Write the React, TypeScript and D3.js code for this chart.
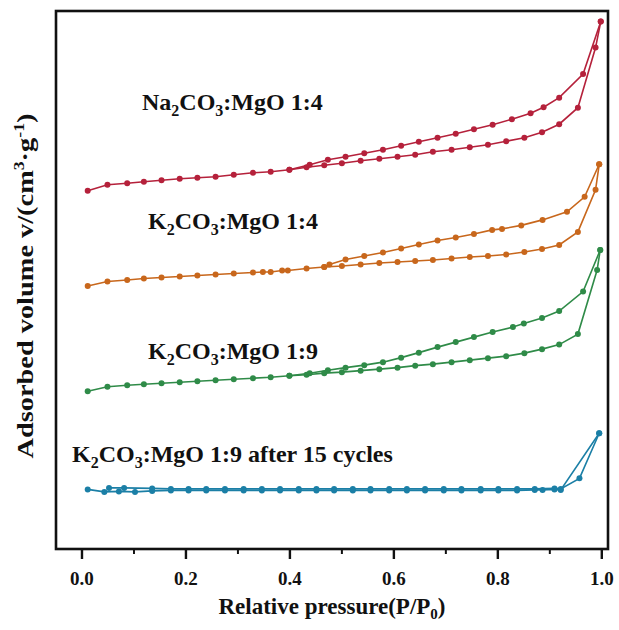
import React from "react";
import * as d3 from "d3";

// relative pressure (P/P0) and adsorbed volume (arbitrary offset units)
const naAdsP = [0.011, 0.049, 0.087, 0.119, 0.153, 0.188, 0.222, 0.257, 0.292, 0.329, 0.363, 0.399, 0.432, 0.466, 0.5, 0.536, 0.572, 0.607, 0.641, 0.675, 0.711, 0.746, 0.781, 0.816, 0.851, 0.885, 0.918, 0.954, 0.988, 0.998];
const naAdsV = [74.1, 75.3, 75.6, 75.9, 76.2, 76.5, 76.7, 76.9, 77.3, 77.7, 77.9, 78.3, 78.8, 79.2, 79.6, 80.1, 80.5, 80.9, 81.3, 81.9, 82.3, 82.8, 83.3, 84.0, 84.7, 85.8, 87.4, 90.7, 102.7, 107.9];
const naDesP = [0.998, 0.964, 0.918, 0.888, 0.863, 0.827, 0.79, 0.754, 0.719, 0.684, 0.648, 0.614, 0.579, 0.543, 0.507, 0.473, 0.438, 0.399];
const naDesV = [107.9, 97.4, 92.7, 90.8, 89.6, 88.4, 87.3, 86.4, 85.5, 84.7, 83.9, 83.1, 82.3, 81.6, 80.9, 80.3, 79.3, 78.3];

const k14AdsP = [0.011, 0.049, 0.087, 0.119, 0.153, 0.188, 0.222, 0.257, 0.292, 0.329, 0.348, 0.363, 0.385, 0.396, 0.432, 0.466, 0.5, 0.536, 0.572, 0.607, 0.641, 0.675, 0.711, 0.746, 0.781, 0.816, 0.851, 0.885, 0.918, 0.954, 0.988, 0.995];
const k14AdsV = [55.1, 56.0, 56.3, 56.6, 56.8, 57.0, 57.2, 57.4, 57.6, 57.8, 57.9, 57.9, 58.2, 58.2, 58.6, 58.9, 59.1, 59.4, 59.7, 59.9, 60.1, 60.3, 60.6, 60.9, 61.1, 61.4, 61.9, 62.5, 63.3, 65.9, 74.3, 79.4];
const k14DesP = [0.995, 0.967, 0.933, 0.886, 0.845, 0.808, 0.789, 0.754, 0.719, 0.684, 0.648, 0.614, 0.579, 0.543, 0.507, 0.476, 0.466];
const k14DesV = [79.4, 72.9, 69.9, 68.3, 67.2, 66.5, 66.3, 65.5, 64.8, 64.2, 63.4, 62.6, 61.8, 61.1, 60.4, 59.4, 58.9];

const k19AdsP = [0.011, 0.049, 0.087, 0.119, 0.153, 0.188, 0.222, 0.257, 0.292, 0.329, 0.363, 0.399, 0.432, 0.466, 0.5, 0.536, 0.572, 0.607, 0.641, 0.675, 0.711, 0.746, 0.781, 0.816, 0.851, 0.885, 0.918, 0.954, 0.991, 0.997];
const k19AdsV = [34.1, 35.0, 35.3, 35.5, 35.7, 35.9, 36.1, 36.3, 36.5, 36.7, 36.9, 37.2, 37.4, 37.7, 37.9, 38.2, 38.5, 38.8, 39.2, 39.5, 39.9, 40.3, 40.7, 41.1, 41.7, 42.5, 43.4, 45.5, 58.3, 62.3];
const k19DesP = [0.997, 0.964, 0.918, 0.885, 0.85, 0.829, 0.79, 0.754, 0.719, 0.684, 0.648, 0.614, 0.579, 0.543, 0.507, 0.473, 0.438, 0.399];
const k19DesV = [62.3, 54.0, 50.1, 48.7, 47.6, 46.9, 45.9, 44.9, 43.9, 42.9, 41.8, 40.8, 39.9, 39.3, 38.8, 38.3, 37.7, 37.2];

const cycAdsP = [0.011, 0.043, 0.071, 0.102, 0.135, 0.171, 0.205, 0.239, 0.275, 0.311, 0.346, 0.381, 0.417, 0.451, 0.485, 0.521, 0.555, 0.591, 0.625, 0.66, 0.696, 0.73, 0.767, 0.801, 0.837, 0.871, 0.886, 0.909, 0.921, 0.995];
const cycAdsV = [14.5, 14.0, 14.1, 14.0, 14.2, 14.3, 14.3, 14.3, 14.3, 14.3, 14.3, 14.3, 14.3, 14.3, 14.3, 14.3, 14.3, 14.3, 14.3, 14.3, 14.3, 14.3, 14.3, 14.3, 14.3, 14.4, 14.4, 14.5, 14.4, 25.7];
const cycDesP = [0.995, 0.957, 0.921, 0.909, 0.871, 0.837, 0.801, 0.767, 0.73, 0.696, 0.66, 0.625, 0.591, 0.555, 0.521, 0.485, 0.451, 0.417, 0.381, 0.346, 0.311, 0.275, 0.239, 0.205, 0.171, 0.135, 0.081, 0.052];
const cycDesV = [25.7, 16.7, 14.6, 14.7, 14.6, 14.6, 14.6, 14.6, 14.6, 14.6, 14.6, 14.6, 14.6, 14.6, 14.6, 14.6, 14.6, 14.6, 14.6, 14.6, 14.6, 14.6, 14.6, 14.6, 14.6, 14.7, 14.8, 14.8];

const seriesColors = ["#b5213b", "#c8671c", "#2f8b48", "#1b7fa6"];

const width = 619;
const height = 630;
const margin = { top: 11, right: 11, bottom: 81, left: 56 };

const font = "'Liberation Serif', 'Times New Roman', serif";

const toPts = (p: number[], v: number[]) => p.map((x, i) => [x, v[i]] as [number, number]);

const series = [
  { color: seriesColors[0], ads: toPts(naAdsP, naAdsV), des: toPts(naDesP, naDesV) },
  { color: seriesColors[1], ads: toPts(k14AdsP, k14AdsV), des: toPts(k14DesP, k14DesV) },
  { color: seriesColors[2], ads: toPts(k19AdsP, k19AdsV), des: toPts(k19DesP, k19DesV) },
  { color: seriesColors[3], ads: toPts(cycAdsP, cycAdsV), des: toPts(cycDesP, cycDesV) },
];

// label text pieces: [text, isSubscript]
const labels: { parts: [string, boolean][]; x: number; y: number }[] = [
  { parts: [["Na", false], ["2", true], ["CO", false], ["3", true], [":MgO 1:4", false]], x: 142, y: 110 },
  { parts: [["K", false], ["2", true], ["CO", false], ["3", true], [":MgO 1:4", false]], x: 148, y: 229 },
  { parts: [["K", false], ["2", true], ["CO", false], ["3", true], [":MgO 1:9", false]], x: 148, y: 359 },
  { parts: [["K", false], ["2", true], ["CO", false], ["3", true], [":MgO 1:9 after 15 cycles", false]], x: 72, y: 462 },
];

export default function App() {
  const x = d3.scaleLinear().domain([-0.05, 1.01]).range([margin.left, width - margin.right - 1]);
  const y = d3.scaleLinear().domain([2.6, 110]).range([height - margin.bottom, margin.top]);
  const line = d3.line<[number, number]>().x((d) => x(d[0])).y((d) => y(d[1]));

  const majors = d3.range(0, 1.0001, 0.2);
  const minors = d3.range(0.1, 1, 0.2);
  const y0 = height - margin.bottom;

  return (
    <svg width={width} height={height} style={{ position: "absolute", left: 0, top: 0, background: "#fff" }} fontFamily={font} fontWeight="bold">
      {series.map((s, i) => (
        <g key={i} stroke={s.color} fill={s.color}>
          <path d={line(s.ads) ?? ""} fill="none" strokeWidth={1.6} />
          <path d={line(s.des) ?? ""} fill="none" strokeWidth={1.6} />
          {s.ads.concat(s.des).map((d, j) => (
            <circle key={j} cx={x(d[0])} cy={y(d[1])} r={3} stroke="none" />
          ))}
        </g>
      ))}

      {labels.map((l, i) => (
        <text key={i} x={l.x} y={l.y} fontSize={24} fill="#111">
          {l.parts.map(([t, sub], j) =>
            sub ? (
              <tspan key={j} dy={6} fontSize={16}>{t}</tspan>
            ) : (
              <tspan key={j} dy={j > 0 ? -6 : 0}>{t}</tspan>
            )
          )}
        </text>
      ))}

      <rect x={margin.left} y={margin.top} width={width - margin.left - margin.right} height={y0 - margin.top} fill="none" stroke="#111" strokeWidth={2.6} />

      {majors.map((t) => (
        <g key={t}>
          <line x1={x(t)} x2={x(t)} y1={y0} y2={y0 + 10} stroke="#111" strokeWidth={2.4} />
          <text x={x(t)} y={y0 + 36} textAnchor="middle" fontSize={19} fill="#111">{d3.format(".1f")(t)}</text>
        </g>
      ))}
      {minors.map((t) => (
        <line key={t} x1={x(t)} x2={x(t)} y1={y0} y2={y0 + 5} stroke="#111" strokeWidth={2} />
      ))}

      <text x={(margin.left + width - margin.right) / 2} y={614} textAnchor="middle" fontSize={23} fill="#111">
        Relative pressure(P/P<tspan dy={5} fontSize={15}>0</tspan><tspan dy={-5}>)</tspan>
      </text>

      <text transform={`translate(33,${(margin.top + y0) / 2 + 6}) rotate(-90)`} textAnchor="middle" fontSize={24} fill="#111" textLength={345} lengthAdjust="spacingAndGlyphs">
        Adsorbed volume v/(cm<tspan dy={-9} fontSize={15}>3</tspan><tspan dy={9}>·g</tspan><tspan dy={-9} fontSize={15}>-1</tspan><tspan dy={9}>)</tspan>
      </text>
    </svg>
  );
}
